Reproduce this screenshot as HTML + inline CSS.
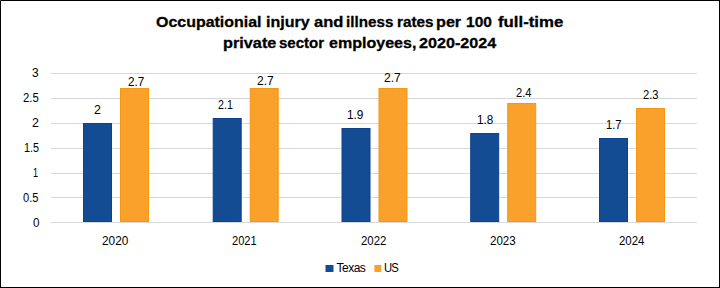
<!DOCTYPE html>
<html><head><meta charset="utf-8"><style>
html,body{margin:0;padding:0;background:#fff;}
body{width:720px;height:288px;position:relative;overflow:hidden;font-family:"Liberation Sans",sans-serif;color:#000;}
.frame{position:absolute;left:0;top:0;width:718px;height:286px;border:1px solid #000;}
svg{position:absolute;left:0;top:0;}
.t{position:absolute;font-size:12px;line-height:14px;white-space:nowrap;}
.yl{position:absolute;right:681px;font-size:12px;line-height:14px;white-space:nowrap;text-align:right;}
.c{position:absolute;font-size:12px;line-height:14px;white-space:nowrap;text-align:center;width:80px;}
.w{position:absolute;font-weight:bold;-webkit-text-stroke:0.3px #000;font-size:15.5px;line-height:30px;white-space:nowrap;transform-origin:0 20px;}
</style></head><body>
<div class="frame"></div>
<svg width="720" height="288" viewBox="0 0 720 288">
<rect x="51" y="73" width="646" height="1" fill="#d9d9d9"/>
<rect x="51" y="98" width="646" height="1" fill="#d9d9d9"/>
<rect x="51" y="123" width="646" height="1" fill="#d9d9d9"/>
<rect x="51" y="148" width="646" height="1" fill="#d9d9d9"/>
<rect x="51" y="173" width="646" height="1" fill="#d9d9d9"/>
<rect x="51" y="197" width="646" height="1" fill="#d9d9d9"/>
<rect x="51" y="222" width="646" height="1" fill="#d9d9d9"/>
<rect x="83.50" y="123.50" width="28" height="98.00" fill="#144c94" stroke="#0c4290" stroke-width="1"/>
<rect x="120.50" y="88.50" width="28" height="133.00" fill="#f9a12b" stroke="#f7970f" stroke-width="1"/>
<rect x="213.20" y="118.50" width="28" height="103.00" fill="#144c94" stroke="#0c4290" stroke-width="1"/>
<rect x="250.20" y="88.50" width="28" height="133.00" fill="#f9a12b" stroke="#f7970f" stroke-width="1"/>
<rect x="342.00" y="128.50" width="28" height="93.00" fill="#144c94" stroke="#0c4290" stroke-width="1"/>
<rect x="379.00" y="88.50" width="28" height="133.00" fill="#f9a12b" stroke="#f7970f" stroke-width="1"/>
<rect x="470.70" y="133.50" width="28" height="88.00" fill="#144c94" stroke="#0c4290" stroke-width="1"/>
<rect x="507.70" y="103.50" width="28" height="118.00" fill="#f9a12b" stroke="#f7970f" stroke-width="1"/>
<rect x="599.50" y="138.50" width="28" height="83.00" fill="#144c94" stroke="#0c4290" stroke-width="1"/>
<rect x="636.50" y="108.50" width="28" height="113.00" fill="#f9a12b" stroke="#f7970f" stroke-width="1"/>
<rect x="325.5" y="265" width="8" height="7" fill="#144c94"/>
<rect x="374.4" y="265" width="7" height="7" fill="#f9a12b"/>
<rect x="0" y="0" width="1" height="1" fill="#444"/>
</svg>
<div class="w" style="left:155.80px;top:7px;transform:scale(1.0289,1.0)">Occupationial</div>
<div class="w" style="left:265.68px;top:7px;transform:scale(1.0376,1.0)">injury</div>
<div class="w" style="left:313.85px;top:7px;transform:scale(1.0678,1.0)">and</div>
<div class="w" style="left:345.72px;top:7px;transform:scale(0.9823,1.0)">illness</div>
<div class="w" style="left:396.52px;top:7px;transform:scale(0.9883,1.0)">rates</div>
<div class="w" style="left:435.88px;top:7px;transform:scale(1.0432,1.0)">per</div>
<div class="w" style="left:466.15px;top:7px;transform:scale(1.0012,1.0)">100</div>
<div class="w" style="left:498.01px;top:7px;transform:scale(1.0835,1.0)">full-time</div>
<div class="w" style="left:222.87px;top:28px;transform:scale(1.0502,1.0)">private</div>
<div class="w" style="left:279.06px;top:28px;transform:scale(0.9705,1.0)">sector</div>
<div class="w" style="left:329.12px;top:28px;transform:scale(1.0344,1.0)">employees,</div>
<div class="w" style="left:419.35px;top:28px;transform:scale(1.0415,1.0)">2020-2024</div>
<div class="t" style="left:94.07px;top:103px;transform-origin:0 0;transform:scaleX(1.0302)">2</div>
<div class="t" style="left:128.10px;top:75px;transform-origin:0 0;transform:scaleX(0.9789)">2.7</div>
<div class="t" style="left:218.36px;top:98px;transform-origin:0 0;transform:scaleX(0.8876)">2.1</div>
<div class="t" style="left:256.79px;top:74px;transform-origin:0 0;transform:scaleX(0.9981)">2.7</div>
<div class="t" style="left:346.98px;top:108px;transform-origin:0 0;transform:scaleX(0.9864)">1.9</div>
<div class="t" style="left:383.69px;top:71px;transform-origin:0 0;transform:scaleX(1.0045)">2.7</div>
<div class="t" style="left:476.99px;top:113px;transform-origin:0 0;transform:scaleX(0.9715)">1.8</div>
<div class="t" style="left:515.73px;top:86px;transform-origin:0 0;transform:scaleX(0.9269)">2.4</div>
<div class="t" style="left:606.13px;top:118px;transform-origin:0 0;transform:scaleX(0.9312)">1.7</div>
<div class="t" style="left:642.63px;top:88px;transform-origin:0 0;transform:scaleX(0.9323)">2.3</div>
<div class="t" style="left:102.10px;top:234px;transform-origin:0 0;transform:scaleX(0.9837)">2020</div>
<div class="t" style="left:232.04px;top:234px;transform-origin:0 0;transform:scaleX(0.9236)">2021</div>
<div class="t" style="left:361.12px;top:234px;transform-origin:0 0;transform:scaleX(0.9481)">2022</div>
<div class="t" style="left:489.61px;top:234px;transform-origin:0 0;transform:scaleX(0.9626)">2023</div>
<div class="t" style="left:618.62px;top:234px;transform-origin:0 0;transform:scaleX(0.9551)">2024</div>
<div class="t" style="left:32.35px;top:66px;transform-origin:0 0;transform:scaleX(0.9964)">3</div>
<div class="t" style="left:23.22px;top:91px;transform-origin:0 0;transform:scaleX(0.9451)">2.5</div>
<div class="t" style="left:32.27px;top:116px;transform-origin:0 0;transform:scaleX(1.0302)">2</div>
<div class="t" style="left:23.95px;top:141px;transform-origin:0 0;transform:scaleX(0.9003)">1.5</div>
<div class="t" style="left:32.87px;top:166px;transform-origin:0 0;transform:scaleX(0.7537)">1</div>
<div class="t" style="left:23.46px;top:191px;transform-origin:0 0;transform:scaleX(0.9246)">0.5</div>
<div class="t" style="left:32.73px;top:216px;transform-origin:0 0;transform:scaleX(0.9744)">0</div>
<div class="t" style="left:336.5px;top:261px;letter-spacing:-0.5px">Texas</div>
<div class="t" style="left:384.2px;top:261px;letter-spacing:-1px;transform-origin:0 0;transform:scaleX(0.94)">US</div>
</body></html>
